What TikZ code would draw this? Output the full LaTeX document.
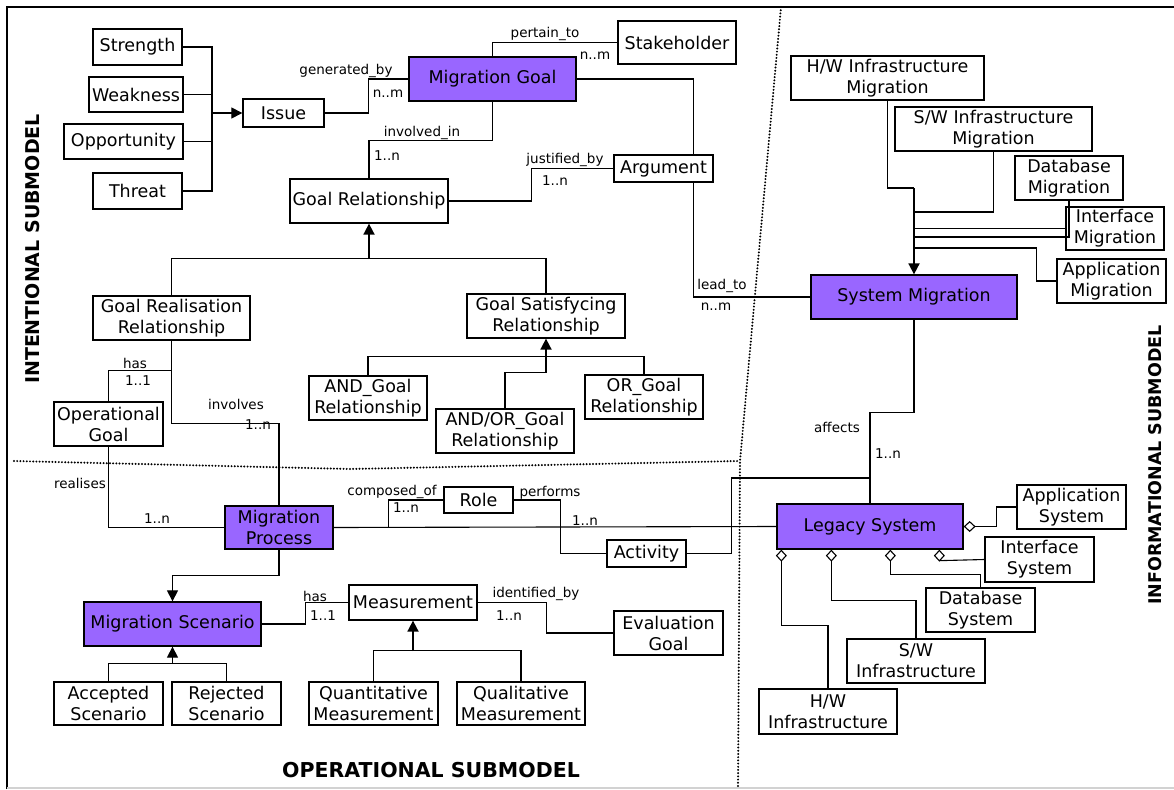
\documentclass[tikz,border=0pt]{standalone}
\usepackage{fontspec}
\setmainfont{DejaVu Sans}
\usetikzlibrary{arrows.meta}
\definecolor{migpurple}{RGB}{153,102,255}

\begin{document}
\begin{tikzpicture}[x=1pt,y=-1pt,line width=1.1pt,
	box/.style={draw,line width=1.3pt,fill=white,align=center,inner sep=1pt,
		minimum height=44pt,font=\fontsize{17.5}{21}\selectfont},
	core/.style={box,fill=migpurple},
	lbl/.style={inner sep=0pt,font=\fontsize{13.5}{15}\selectfont},
	part/.style={inner sep=0pt,font=\bfseries\fontsize{19}{22}\selectfont},
	isa/.style={-{Triangle[width=11pt,length=11pt]},line width=1.3pt},
	whole/.style={{Diamond[open,width=11pt,length=12pt]}-},
	border/.style={line width=2.2pt,line cap=round,dash pattern=on 0pt off 3.2pt}]

	\useasboundingbox (0,0) rectangle (1174,789);
	\draw[line width=2pt] (7,789) -- (7,7) -- (1174,7);
	\draw[gray!35,line width=1.5pt] (7,788) -- (1174,788);

	% submodel borders
	\draw[border] (14,461) -- (350,469) -- (740,461);
	\draw[border] (781,7) -- (740,461) -- (738,789);

	\node[part,rotate=90] (intent) at (33,249) {INTENTIONAL SUBMODEL};
	\node[part,rotate=90,font=\bfseries\fontsize{17.5}{21}\selectfont] (inform) at (1155,465) {INFORMATIONAL SUBMODEL};
	\node[part,font=\bfseries\fontsize{20.5}{24}\selectfont] (operat) at (431,770) {OPERATIONAL SUBMODEL};

	% intentional submodel
	\node[box,minimum width=89pt,minimum height=36pt] (strength) at (137.5,47) {Strength};
	\node[box,minimum width=94pt,minimum height=35pt] (weakness) at (136,94.5) {Weakness};
	\node[box,minimum width=119pt,minimum height=35pt] (opport) at (123.5,141.5) {Opportunity};
	\node[box,minimum width=89pt,minimum height=36pt] (threat) at (137.5,191) {Threat};
	\node[box,minimum width=81pt,minimum height=28pt] (issue) at (283.5,113) {Issue};
	\node[core,minimum width=167pt] (mgoal) at (492.5,79) {Migration Goal};
	\node[box,minimum width=118pt,minimum height=43pt] (stake) at (677,42.5) {Stakeholder};
	\node[box,minimum width=99pt,minimum height=27pt] (argument) at (663.5,168.5) {Argument};
	\node[box,minimum width=158pt] (goalrel) at (369,201) {Goal Relationship};
	\node[box,minimum width=157pt] (grr) at (171.5,318) {Goal Realisation\\Relationship};
	\node[box,minimum width=158pt] (gsr) at (546,316) {Goal Satisfycing\\Relationship};
	\node[box,minimum width=118pt] (andg) at (368,398) {AND\_Goal\\Relationship};
	\node[box,minimum width=138pt] (andorg) at (505,431) {AND/OR\_Goal\\Relationship};
	\node[box,minimum width=118pt] (org) at (644,397) {OR\_Goal\\Relationship};
	\node[box,minimum width=109pt] (opgoal) at (108.5,424) {Operational\\Goal};

	% informational submodel
	\node[box,minimum width=193pt] (hwmig) at (887.5,78) {H/W Infrastructure\\Migration};
	\node[box,minimum width=197pt] (swmig) at (993.5,129) {S/W Infrastructure\\Migration};
	\node[box,minimum width=108pt] (dbmig) at (1069,178) {Database\\Migration};
	\node[box,minimum width=98pt,minimum height=43pt] (ifmig) at (1115,228.5) {Interface\\Migration};
	\node[box,minimum width=109pt] (appmig) at (1111.5,281) {Application\\Migration};
	\node[core,minimum width=206pt] (sysmig) at (914,297) {System Migration};
	\node[core,minimum width=186pt,minimum height=45pt] (legacy) at (870,526.5) {Legacy System};
	\node[box,minimum width=109pt] (appsys) at (1071.5,507) {Application\\System};
	\node[box,minimum width=109pt,minimum height=45pt] (ifsys) at (1039.5,559.5) {Interface\\System};
	\node[box,minimum width=109pt] (dbsys) at (980.5,610) {Database\\System};
	\node[box,minimum width=138pt] (swinf) at (916,661) {S/W\\Infrastructure};
	\node[box,minimum width=138pt,minimum height=45pt] (hwinf) at (828,711.5) {H/W\\Infrastructure};

	% operational submodel
	\node[core,minimum width=108pt,minimum height=43pt] (mproc) at (279,527.5) {Migration\\Process};
	\node[box,minimum width=69pt,minimum height=26pt] (role) at (478.5,500) {Role};
	\node[box,minimum width=79pt,minimum height=27pt] (activity) at (646.5,553.5) {Activity};
	\node[core,minimum width=177pt] (mscen) at (172.5,624) {Migration Scenario};
	\node[box,minimum width=109pt,minimum height=43pt] (accepted) at (108.5,703.5) {Accepted\\Scenario};
	\node[box,minimum width=109pt,minimum height=43pt] (rejected) at (226.5,703.5) {Rejected\\Scenario};
	\node[box,minimum width=128pt,minimum height=35pt] (measure) at (413,602.5) {Measurement};
	\node[box,minimum width=109pt] (evalgoal) at (668.5,633) {Evaluation\\Goal};
	\node[box,minimum width=129pt,minimum height=43pt] (quant) at (373.5,703.5) {Quantitative\\Measurement};
	\node[box,minimum width=128pt,minimum height=43pt] (qual) at (521,703.5) {Qualitative\\Measurement};

	% junctions
	\coordinate (swot) at (212,113);
	\coordinate (grjoin) at (369,259);
	\coordinate (gsjoin) at (546,357);
	\coordinate (smbus) at (914,188);
	\coordinate (msjoin) at (172.5,664);
	\coordinate (mjoin) at (413,651);

	% connectors, intentional
	\draw (strength.east) -| (swot);
	\draw (threat.east) -| (swot);
	\draw (weakness.east) -- (weakness.east -| swot);
	\draw (opport.east) -- (opport.east -| swot);
	\draw[isa,line width=1.1pt] (swot) -- (issue.west);
	\draw (issue.east) -- ++(43.5,0) |- (mgoal.west);
	\draw (mgoal.north) |- (stake.west);
	\draw (mgoal.east) -| ([xshift=-20pt]argument.north east);
	\draw (mgoal.south) -- ++(0,39) -| (goalrel.north);
	\draw (goalrel.east) -- ++(83,0) |- (argument.west);
	\draw ([xshift=-20pt]argument.south east) |- (sysmig.west);
	\draw (grr.north) -- ++(0,-37) -| (gsr.north);
	\draw[isa,line width=1.8pt] (grjoin) -- (goalrel.south);
	\draw (andg.north) -- ++(0,-19) -| (org.north);
	\draw (andorg.north) -- ++(0,-36) -| (gsjoin);
	\draw[isa,line width=1.8pt] (gsjoin) -- (gsr.south);
	\draw (grr.south) -- ++(0,30) -| (opgoal.north);
	\draw (grr.south) -- ++(0,83) -| (mproc.north);

	% connectors, informational
	\draw (hwmig.south) |- (smbus);
	\draw (swmig.south) |- (914,212);
	\draw (ifmig.west) -- (914,228.5);
	\draw (dbmig.south) |- (914,237);
	\draw (appmig.west) -- ++(-20,0) |- (914,248);
	\draw[isa,line width=1.8pt] (smbus) -- (sysmig.north);
	\draw (sysmig.south) -- ++(0,93) -| (legacy.north);
	\draw[whole] (legacy.east) -- ++(33,0) |- (appsys.west);
	\draw[whole] ([xshift=163pt]legacy.south west) -- ++(0,11) -- (ifsys.west);
	\draw[whole] ([xshift=114pt]legacy.south west) -- ++(0,25) -| (dbsys.north);
	\draw[whole] ([xshift=55pt]legacy.south west) -- ++(0,51) -| (swinf.north);
	\draw[whole] ([xshift=5pt]legacy.south west) -- ++(0,76) -| (hwinf.north);

	% connectors, operational
	\draw (opgoal.south) |- (mproc.west);
	\draw (mproc.east) -- (legacy.west);
	\draw (mproc.east) -- ++(55,0) |- (role.west);
	\draw (role.east) -- ++(47,0) |- (activity.west);
	\draw (activity.east) -- ++(45,0) |- (870,478);
	\draw[isa,line width=1.1pt] (mproc.south) -- ++(0,26) -| (mscen.north);
	\draw (accepted.north) -- ++(0,-18) -| (rejected.north);
	\draw[isa,line width=1.3pt] (msjoin) -- (mscen.south);
	\draw (mscen.east) -- ++(44,0) |- (measure.west);
	\draw (measure.east) -- ++(69,0) |- (evalgoal.west);
	\draw (quant.north) -- ++(0,-31) -| (qual.north);
	\draw[isa,line width=1.8pt] (mjoin) -- (measure.south);

	% role names and cardinalities
	\node[lbl] (lgenby) at (346,71) {generated\_by};
	\node[lbl] (lgennm) at (388,94) {n..m};
	\node[lbl] (lpert) at (545,34) {pertain\_to};
	\node[lbl] (lpertnm) at (595,56) {n..m};
	\node[lbl] (linvin) at (422,133) {involved\_in};
	\node[lbl] (linvn) at (387,156) {1..n};
	\node[lbl] (ljust) at (565,160) {justified\_by};
	\node[lbl] (ljustn) at (555,181) {1..n};
	\node[lbl] (llead) at (722,286) {lead\_to};
	\node[lbl] (lleadnm) at (716,307) {n..m};
	\node[lbl] (lhas) at (135,363) {has};
	\node[lbl] (lhasn) at (138,381) {1..1};
	\node[lbl] (linvol) at (236,404) {involves};
	\node[lbl] (linvoln) at (258,425) {1..n};
	\node[lbl] (lreal) at (80,483) {realises};
	\node[lbl] (lrealn) at (157,519) {1..n};
	\node[lbl] (lcomp) at (392,492) {composed\_of};
	\node[lbl] (lcompn) at (406,508) {1..n};
	\node[lbl] (lperf) at (550,493) {performs};
	\node[lbl] (lperfn) at (585,521) {1..n};
	\node[lbl] (laff) at (837,427) {affects};
	\node[lbl] (laffn) at (888,454) {1..n};
	\node[lbl] (lmhas) at (315,596) {has};
	\node[lbl] (lmhasn) at (323,616) {1..1};
	\node[lbl] (lident) at (536,594) {identified\_by};
	\node[lbl] (lidentn) at (509,616) {1..n};

\end{tikzpicture}
\end{document}
